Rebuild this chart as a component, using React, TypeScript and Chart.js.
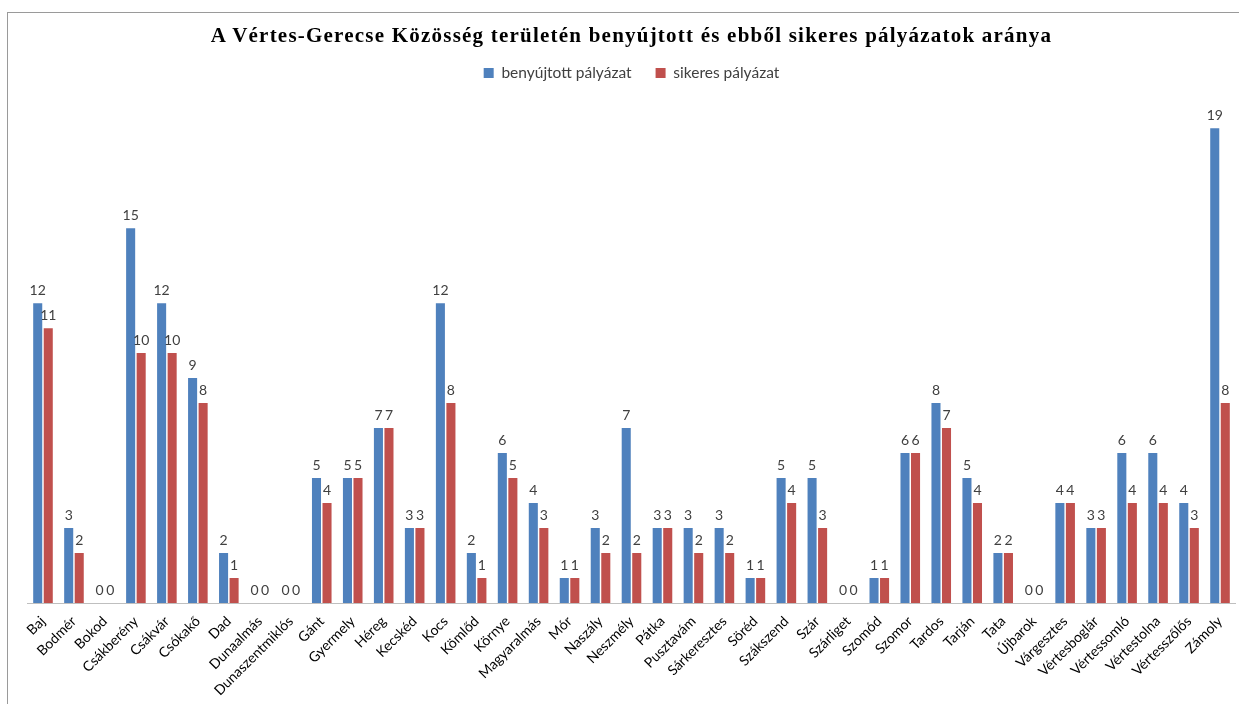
import React, { useEffect, useRef } from "react";
import { Chart, registerables } from "chart.js";

Chart.register(...registerables);

const categories = [
  "Baj", "Bodmér", "Bokod", "Csákberény", "Csákvár", "Csókakő", "Dad", "Dunaalmás",
  "Dunaszentmiklós", "Gánt", "Gyermely", "Héreg", "Kecskéd", "Kocs", "Kömlőd", "Környe",
  "Magyaralmás", "Mór", "Naszály", "Neszmély", "Pátka", "Pusztavám", "Sárkeresztes",
  "Söréd", "Szákszend", "Szár", "Szárliget", "Szomód", "Szomor", "Tardos", "Tarján",
  "Tata", "Újbarok", "Várgesztes", "Vértesboglár", "Vértessomló", "Vértestolna",
  "Vértesszőlős", "Zámoly",
];

const benyujtott = [
  12, 3, 0, 15, 12, 9, 2, 0, 0, 5, 5, 7, 3, 12, 2, 6, 4, 1, 3, 7, 3, 3, 3, 1, 5, 5, 0, 1,
  6, 8, 5, 2, 0, 4, 3, 6, 6, 4, 19,
];

const sikeres = [
  11, 2, 0, 10, 10, 8, 1, 0, 0, 4, 5, 7, 3, 8, 1, 5, 3, 1, 2, 2, 3, 2, 2, 1, 4, 3, 0, 1,
  6, 7, 4, 2, 0, 4, 3, 4, 4, 3, 8,
];

const seriesNames = ["benyújtott pályázat", "sikeres pályázat"];
const titleText =
  "A Vértes-Gerecse Közösség területén benyújtott és ebből sikeres pályázatok aránya";

const valueLabels = {
  id: "valueLabels",
  afterDatasetsDraw(chart: any) {
    const ctx = chart.ctx;
    ctx.save();
    ctx.font = "14px Lato";
    ctx.fillStyle = "#404040";
    ctx.textAlign = "center";
    ctx.textBaseline = "bottom";
    chart.data.datasets.forEach((ds: any, i: number) => {
      const meta = chart.getDatasetMeta(i);
      meta.data.forEach((el: any, j: number) => {
        ctx.fillText(String(ds.data[j]), el.x, el.y - 6);
      });
    });
    ctx.restore();
  },
};

export default function App() {
  const ref = useRef<HTMLCanvasElement | null>(null);

  useEffect(() => {
    document.body.style.margin = "0";
    document.body.style.overflow = "hidden";
    const chart = new Chart(ref.current as HTMLCanvasElement, {
      type: "bar",
      data: {
        labels: categories,
        datasets: [
          {
            label: seriesNames[0],
            data: benyujtott,
            backgroundColor: "#4F81BD",
            categoryPercentage: 0.68,
            barPercentage: 0.86,
          },
          {
            label: seriesNames[1],
            data: sikeres,
            backgroundColor: "#C0504D",
            categoryPercentage: 0.68,
            barPercentage: 0.86,
          },
        ],
      },
      options: {
        animation: false,
        responsive: false,
        maintainAspectRatio: false,
        layout: { padding: { left: 27.5, right: 3.5, top: 41.25, bottom: 0 } },
        plugins: {
          title: { display: false },
          legend: {
            display: true,
            position: "top",
            labels: {
              boxWidth: 10,
              boxHeight: 10,
              color: "#404040",
              font: { family: "Lato", size: 15.5 },
              padding: 24,
            },
          },
          tooltip: { enabled: false },
        },
        scales: {
          x: {
            grid: { display: false },
            border: { display: true, color: "#BFBFBF", width: 1 },
            ticks: {
              color: "#000",
              font: { family: "Lato", size: 14 },
              maxRotation: 45,
              minRotation: 45,
              autoSkip: false,
              padding: 2,
            },
            afterFit: (scale: any) => {
              scale.height = 101;
            },
          },
          y: {
            display: false,
            min: 0,
            max: 20.5,
          },
        },
      },
      plugins: [valueLabels],
    });
    return () => chart.destroy();
  }, []);

  return (
    <div style={{ position: "relative", width: 1239, height: 704, overflow: "hidden", background: "#fff" }}>
      <canvas ref={ref} width={1239} height={704} style={{ position: "absolute", left: 0, top: 0 }} />
      <div
        style={{
          position: "absolute",
          left: 0,
          top: 23,
          width: 1263,
          textAlign: "center",
          fontFamily: "'Liberation Serif', serif",
          fontWeight: "bold",
          fontSize: 21,
          lineHeight: "25px",
          letterSpacing: "1.22px",
          color: "#000",
          whiteSpace: "nowrap",
        }}
      >
        {titleText}
      </div>
      <div
        style={{
          position: "absolute",
          left: 7,
          top: 12,
          width: 1400,
          height: 900,
          borderLeft: "1px solid #9A9A9A",
          borderTop: "1px solid #9A9A9A",
          pointerEvents: "none",
        }}
      />
    </div>
  );
}
